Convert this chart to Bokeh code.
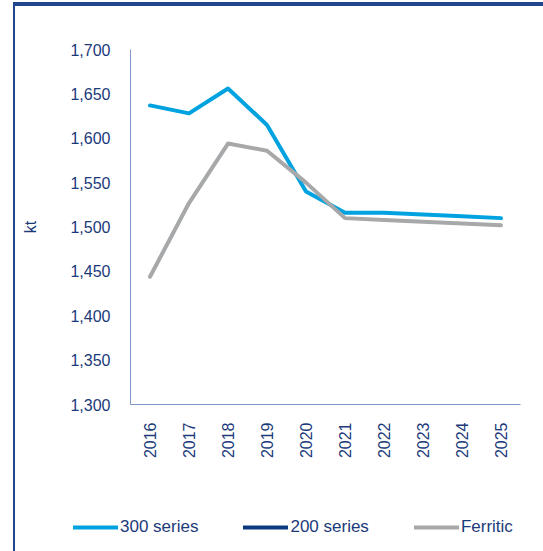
from bokeh.plotting import figure
from bokeh.models import Legend, LegendItem, NumeralTickFormatter, Div
from bokeh.layouts import column
from bokeh.embed import file_html
from bokeh.resources import INLINE
import math

years = ["2016", "2017", "2018", "2019", "2020", "2021", "2022", "2023", "2024", "2025"]
series_300 = [1637, 1628, 1656, 1615, 1540, 1516, 1516, 1514, 1512, 1510]
series_200_years = []
series_200 = []
ferritic = [1444, 1527, 1594, 1586, 1550, 1510, 1508, 1506, 1504, 1502]
y_ticks = [1300, 1350, 1400, 1450, 1500, 1550, 1600, 1650, 1700]
legend_labels = ["300 series", "200 series", "Ferritic"]
colors = ["#00A3E0", "#0B3A7E", "#A7A8AA"]

TEXT = "#1B3A7A"
FONT = "Liberation Sans"
FRAME = "#21468E"

p = figure(x_range=years, y_range=(1300, 1700), width=528, height=455,
           output_backend="svg", toolbar_location=None,
           min_border_left=115, min_border_right=23, min_border_top=43, min_border_bottom=55)
p.x_range.range_padding = 0
p.outline_line_color = None
p.grid.visible = False
p.frame_align = False

p.line(years, series_300, line_color=colors[0], line_width=4, line_join="round", line_cap="round")
p.line(series_200_years, series_200, line_color=colors[1], line_width=4, line_cap="round")
p.line(years, ferritic, line_color=colors[2], line_width=4, line_join="round", line_cap="round")

p.yaxis.ticker = y_ticks
p.yaxis.formatter = NumeralTickFormatter(format="0,0")
for ax in (p.xaxis[0], p.yaxis[0]):
    ax.axis_line_color = "#7F96C8"
    ax.axis_line_width = 1
    ax.major_tick_line_color = None
    ax.minor_tick_line_color = None
    ax.major_label_text_color = TEXT
    ax.major_label_text_font = FONT
    ax.major_label_text_font_size = "16px"
p.yaxis.major_label_standoff = 14
p.xaxis.major_label_standoff = 12
p.xaxis.major_label_orientation = math.pi / 2
p.yaxis.axis_label = "kt"
p.yaxis.axis_label_text_color = TEXT
p.yaxis.axis_label_text_font = FONT
p.yaxis.axis_label_text_font_size = "16px"
p.yaxis.axis_label_text_font_style = "normal"
p.yaxis.axis_label_standoff = 28

# legend strip
lf = figure(width=528, height=90, x_range=(0, 1), y_range=(0, 1),
            x_axis_type=None, y_axis_type=None, output_backend="svg", toolbar_location=None,
            min_border=0)
lf.outline_line_color = None
lf.grid.visible = False
lf.frame_align = False
items = []
for lab, col in zip(legend_labels, colors):
    r = lf.line([float("nan")], [float("nan")], line_color=col, line_width=4, line_cap="round")
    items.append(LegendItem(label=lab, renderers=[r]))
legend = Legend(items=items, orientation="horizontal", location=(58, 14),
                glyph_width=45, glyph_height=20, label_height=20, label_standoff=2,
                spacing=45, padding=0, margin=0, border_line_alpha=0,
                background_fill_alpha=0,
                label_text_color=TEXT, label_text_font=FONT, label_text_font_size="17px")
lf.add_layout(legend, "center")

top_rule = Div(text="", width=528, height=2, margin=0,
               styles={"background-color": FRAME})

layout = column(top_rule, p, lf, spacing=0,
                styles={"border-left": "2px solid " + FRAME,
                        "box-shadow": "0 -2px 0 0 " + FRAME,
                        "margin-left": "13px", "margin-top": "4px"})
open("out.html", "w").write(file_html(layout, INLINE))
